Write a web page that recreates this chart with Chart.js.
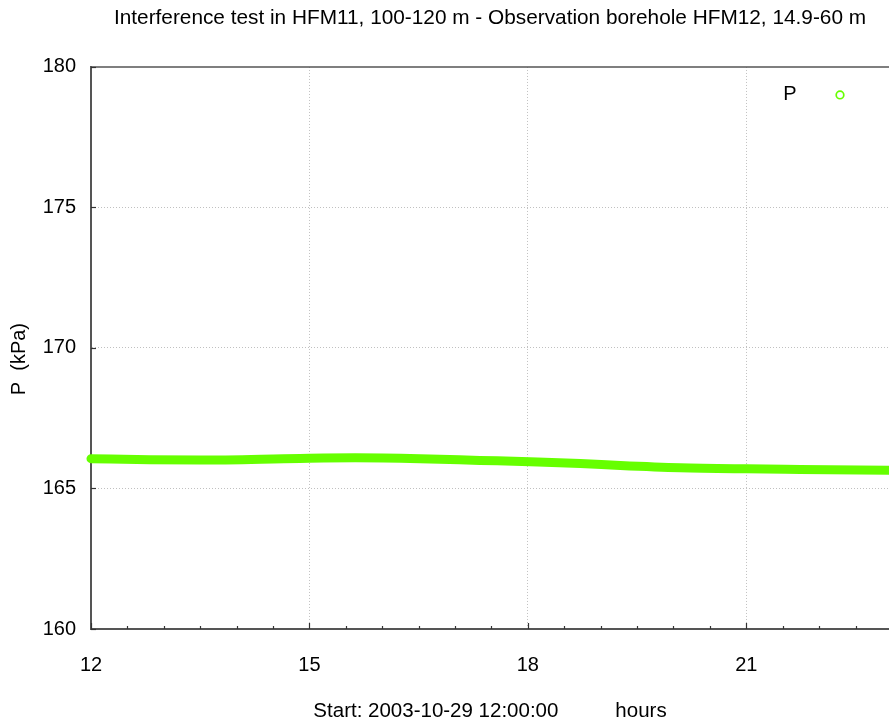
<!DOCTYPE html>
<html>
<head>
<meta charset="utf-8">
<script src="https://cdn.jsdelivr.net/npm/chart.js@4/dist/chart.umd.min.js"></script>
<style>
html,body{margin:0;padding:0;background:#fff;}
#wrap{width:889px;height:724px;}
</style>
</head>
<body>
<div id="wrap"><canvas id="c" width="889" height="724"></canvas></div>
<script>
// ---- data ----
const chartTitle = 'Interference test in HFM11, 100-120 m - Observation borehole HFM12, 14.9-60 m';
const xAxisTitle = 'Start: 2003-10-29 12:00:00          hours';
const yAxisTitle = 'P  (kPa)    ';
const seriesLabel = 'P';
const hours    = [12.0, 12.81, 13.5, 14.87, 15.63, 16.52, 17.34, 18.03, 18.72, 19.27, 20.09, 21.0, 21.74, 22.96];
const pressure = [166.06, 166.02, 166.01, 166.07, 166.09, 166.06, 166.00, 165.95, 165.89, 165.82, 165.74, 165.70, 165.68, 165.65];
const xTicks = [12, 15, 18, 21];
const yTicks = [160, 165, 170, 175, 180];
const xMin = 12, xMax = 22.96, xMinorStep = 0.5;
const yMin = 160, yMax = 180;

const FONT = '"Liberation Sans", Arial, Helvetica, sans-serif';
const LIME = '#66ff00';
const AXIS = '#555555';

const framePlugin = {
  id: 'frame',
  afterDraw(chart) {
    const {ctx, chartArea: a, scales: {x, y}} = chart;
    ctx.save();
    // top border
    ctx.strokeStyle = AXIS;
    ctx.lineWidth = 1.5;
    ctx.beginPath();
    ctx.moveTo(a.left, a.top);
    ctx.lineTo(a.right, a.top);
    ctx.stroke();
    // x tick marks (inward)
    ctx.lineWidth = 1.2;
    ctx.strokeStyle = '#333';
    for (let v = xMin; v <= xMax + 1e-9; v += xMinorStep) {
      const px = Math.round(x.getPixelForValue(v)) + 0.5;
      const major = xTicks.includes(v);
      const len = major ? 6 : 3;
      ctx.beginPath();
      ctx.moveTo(px, a.bottom);
      ctx.lineTo(px, a.bottom - len);
      ctx.stroke();
    }
    // y tick marks (inward)
    yTicks.forEach(v => {
      const py = Math.round(y.getPixelForValue(v)) + 0.5;
      ctx.beginPath();
      ctx.moveTo(a.left, py);
      ctx.lineTo(a.left + 5, py);
      ctx.stroke();
    });
    // legend
    const lx = a.right - 99, ly = a.top + 28;
    ctx.fillStyle = '#000';
    ctx.font = '20px ' + FONT;
    ctx.textAlign = 'center';
    ctx.textBaseline = 'middle';
    ctx.fillText(chart.data.datasets[0].label, lx, ly);
    ctx.strokeStyle = LIME;
    ctx.lineWidth = 1.7;
    ctx.beginPath();
    ctx.arc(a.right - 49, ly, 3.8, 0, Math.PI * 2);
    ctx.stroke();
    ctx.restore();
  }
};

const points = hours.map((h, i) => ({x: h, y: pressure[i]}));

new Chart(document.getElementById('c'), {
  type: 'line',
  data: {
    datasets: [{
      label: seriesLabel,
      data: points,
      borderColor: LIME,
      backgroundColor: LIME,
      borderWidth: 9,
      borderCapStyle: 'round',
      borderJoinStyle: 'round',
      cubicInterpolationMode: 'monotone',
      pointRadius: 0,
      fill: false,
      clip: {left: 6, top: 0, right: 0, bottom: 0}
    }]
  },
  options: {
    responsive: false,
    animation: false,
    devicePixelRatio: 1,
    layout: {padding: 0},
    plugins: {
      legend: {display: false},
      tooltip: {enabled: false},
      title: {
        display: true,
        text: chartTitle,
        fullSize: false,
        color: '#000',
        font: {family: FONT, size: 20.8, weight: 'normal'},
        padding: {top: 6, bottom: 36}
      }
    },
    scales: {
      x: {
        type: 'linear',
        min: xMin,
        max: xMax,
        afterBuildTicks: s => { s.ticks = xTicks.map(v => ({value: v})); },
        afterFit: s => { s.height = 95; },
        ticks: {
          color: '#000',
          font: {family: FONT, size: 20},
          padding: 24,
          maxRotation: 0,
          autoSkip: false
        },
        grid: {
          drawTicks: false,
          tickLength: 0,
          lineWidth: 1,
          color: c => (c.tick && (c.tick.value === xMin)) ? 'rgba(0,0,0,0)' : '#c0c0c0'
        },
        border: {display: true, color: AXIS, width: 2, dash: [1, 2]},
        title: {
          display: true,
          text: xAxisTitle,
          color: '#000',
          font: {family: FONT, size: 20.5},
          padding: {top: 0, bottom: 0}
        }
      },
      y: {
        type: 'linear',
        min: yMin,
        max: yMax,
        afterBuildTicks: s => { s.ticks = yTicks.map(v => ({value: v})); },
        afterFit: s => { s.width = 91; },
        ticks: {
          color: '#000',
          font: {family: FONT, size: 20},
          padding: 15
        },
        grid: {
          drawTicks: false,
          tickLength: 0,
          lineWidth: 1,
          color: c => (c.tick && (c.tick.value === yMin || c.tick.value === yMax)) ? 'rgba(0,0,0,0)' : '#c0c0c0'
        },
        border: {display: true, color: AXIS, width: 2, dash: [1, 2]},
        title: {
          display: true,
          text: yAxisTitle,
          color: '#000',
          font: {family: FONT, size: 20},
          padding: {top: 7, bottom: 0}
        }
      }
    }
  },
  plugins: [framePlugin]
});
</script>
</body>
</html>
